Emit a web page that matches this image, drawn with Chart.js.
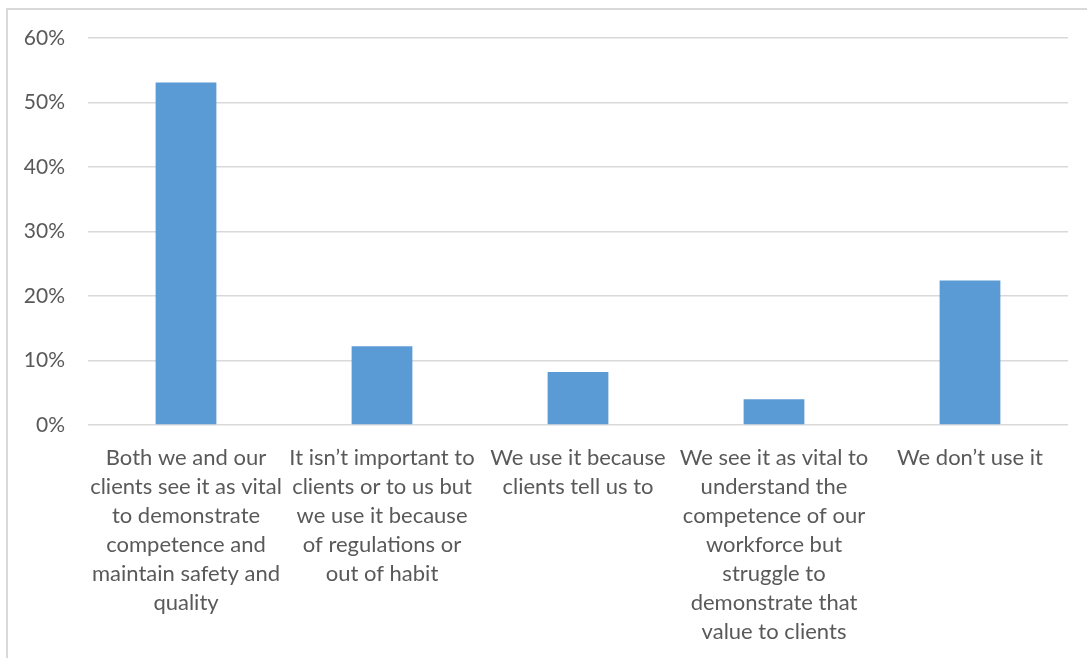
<!DOCTYPE html>
<html>
<head>
<meta charset="utf-8">
<script src="https://cdn.jsdelivr.net/npm/chart.js@4/dist/chart.umd.min.js"></script>
<style>
  html, body { margin: 0; padding: 0; background: #fff; overflow: hidden; }
  #frame {
    position: absolute; left: 6px; top: 8px;
    width: 1081px; height: 660px;
    border-left: 2px solid #d9d9d9; border-top: 2px solid #d9d9d9;
  }
  #wrap { position: absolute; left: 0; top: 0; width: 1079px; height: 648px; }
</style>
</head>
<body>
<div id="frame"><div id="wrap"><canvas id="c"></canvas></div></div>
<script>
// categories (pre-wrapped the way the original chart wraps them)
const categories = [
  ['Both we and our', 'clients see it as vital', 'to demonstrate', 'competence and', 'maintain safety and', 'quality'],
  ['It isn\u2019t important to', 'clients or to us but', 'we use it because', 'of regulations or', 'out of habit'],
  ['We use it because', 'clients tell us to'],
  ['We see it as vital to', 'understand the', 'competence of our', 'workforce but', 'struggle to', 'demonstrate that', 'value to clients'],
  ['We don\u2019t use it']
];
const shares = [0.531, 0.122, 0.082, 0.040, 0.224];
const yTicks = [0, 0.1, 0.2, 0.3, 0.4, 0.5, 0.6];

const TEXT = '#595959';
const FONT = 'Lato, "Open Sans", sans-serif';

new Chart(document.getElementById('c'), {
  type: 'bar',
  data: {
    labels: categories,
    datasets: [{
      data: shares,
      backgroundColor: '#5b9bd5',
      barPercentage: 0.31,
      categoryPercentage: 1
    }]
  },
  options: {
    responsive: true,
    maintainAspectRatio: false,
    animation: false,
    layout: { padding: { top: 28, right: 19, bottom: 0, left: 0 } },
    plugins: { legend: { display: false }, tooltip: { enabled: false } },
    scales: {
      x: {
        grid: { display: false },
        border: { display: false },
        ticks: {
          color: TEXT,
          font: { family: FONT, size: 22, lineHeight: 1.32 },
          maxRotation: 0,
          autoSkip: false,
          padding: 10
        },
        afterFit: s => {
          s.height = 233;
          s.paddingTop = s.paddingBottom = s.paddingLeft = s.paddingRight = 0;
        }
      },
      y: {
        min: 0,
        max: 0.6,
        afterBuildTicks: s => { s.ticks = yTicks.map(v => ({ value: v })); },
        grid: { color: '#d9d9d9', lineWidth: 1.5, drawTicks: false },
        border: { display: false },
        ticks: {
          color: TEXT,
          font: { family: FONT, size: 21 },
          padding: 23,
          callback: v => Math.round(v * 100) + '%'
        },
        afterFit: s => {
          s.width = 80;
          s.paddingTop = s.paddingBottom = 0;
        }
      }
    }
  }
});
</script>
</body>
</html>
